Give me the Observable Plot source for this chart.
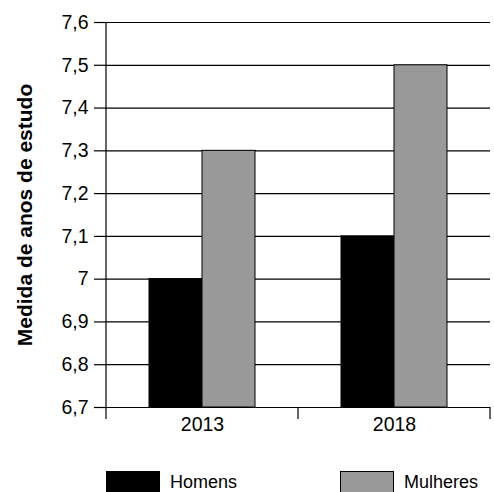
<!DOCTYPE html>
<html>
<head>
<meta charset="utf-8">
<script src="https://cdn.jsdelivr.net/npm/d3@7"></script>
<script src="https://cdn.jsdelivr.net/npm/@observablehq/plot@0.6"></script>
<style>
  html, body { margin: 0; padding: 0; background: #fff; }
  #chart { width: 494px; font-family: "Liberation Sans", Arial, sans-serif; }
  g[aria-label="y-axis tick label"] text, g[aria-label="fx-axis tick label"] text { font-size: 19.5px !important; }
  g[aria-label="y-axis label"] text { font-weight: bold !important; font-size: 21px !important; }
  .legend { position: relative; height: 42px; font-size: 18px; color: #000; }
  .legend .item { position: absolute; top: 21px; display: flex; align-items: center; }
  .legend .sw { width: 54px; height: 23px; box-sizing: border-box; border: 1px solid #000; margin-right: 10px; }
</style>
</head>
<body>
<div id="chart"></div>
<script>
const years = ["2013", "2018"];
const series = ["Homens", "Mulheres"];
const homens = [7.0, 7.1];
const mulheres = [7.3, 7.5];
const yTicks = [6.7, 6.8, 6.9, 7.0, 7.1, 7.2, 7.3, 7.4, 7.5, 7.6];
const colors = ["#000000", "#999999"];
const yLabel = "Medida de anos de estudo";

const data = years.flatMap((yr, i) => [
  {year: yr, sex: series[0], value: homens[i]},
  {year: yr, sex: series[1], value: mulheres[i]}
]);

const fmt = d => String(+d.toFixed(1)).replace(".", ",");

const chart = Plot.plot({
  width: 494,
  height: 450,
  marginLeft: 106,
  marginRight: 4,
  marginTop: 22,
  marginBottom: 43,
  style: {fontFamily: "'Liberation Sans', Arial, sans-serif", fontSize: "16px", color: "#000", background: "#fff", overflow: "visible"},
  fx: {domain: years, padding: 0, label: null},
  x: {domain: series, paddingInner: 0, paddingOuter: 0.78, axis: null},
  y: {domain: [yTicks[0], yTicks[yTicks.length - 1]], label: null},
  color: {domain: series, range: colors},
  marks: [
    Plot.gridY(yTicks, {stroke: "#000", strokeOpacity: 1, strokeWidth: 1.2}),
    Plot.barY(data, {fx: "year", x: "sex", y1: yTicks[0], y2: "value", fill: "sex", stroke: "#000", strokeWidth: 1}),
    Plot.axisY(yTicks, {tickSize: 12, tickPadding: 6, tickFormat: fmt, stroke: "#000", strokeWidth: 1.2, fontSize: 19.5,
      label: yLabel, labelArrow: "none", labelAnchor: "center", labelOffset: 89}),
    Plot.axisFx({anchor: "bottom", tickSize: 0, tickPadding: 10, label: null, fontSize: 19.5})
  ]
});

// Add y axis line and category boundary ticks using the plot's scales
const svg = d3.select(chart.tagName.toLowerCase() === "svg" ? chart : chart.querySelector("svg"));
const fx = chart.scale("fx");
const y = chart.scale("y");
const y0 = y.apply(yTicks[0]);
const y1 = y.apply(yTicks[yTicks.length - 1]);
const bounds = years.map(d => fx.apply(d)).concat([fx.apply(years[years.length - 1]) + fx.bandwidth]);
const g = svg.append("g").attr("stroke", "#000").attr("stroke-width", 1.2);
g.append("line").attr("x1", bounds[0]).attr("x2", bounds[0]).attr("y1", y1).attr("y2", y0);
bounds.forEach(b => {
  g.append("line").attr("x1", b).attr("x2", b).attr("y1", y0).attr("y2", y0 + 12);
});
svg.selectAll('g[aria-label="y-axis label"] text').text(yLabel);

document.getElementById("chart").appendChild(chart);

// Legend
const legend = d3.select("#chart").append("div").attr("class", "legend");
const legendX = [106, 340];
series.forEach((s, i) => {
  const it = legend.append("div").attr("class", "item").style("left", legendX[i] + "px");
  it.append("div").attr("class", "sw").style("background", colors[i]);
  it.append("span").text(s);
});
</script>
</body>
</html>
